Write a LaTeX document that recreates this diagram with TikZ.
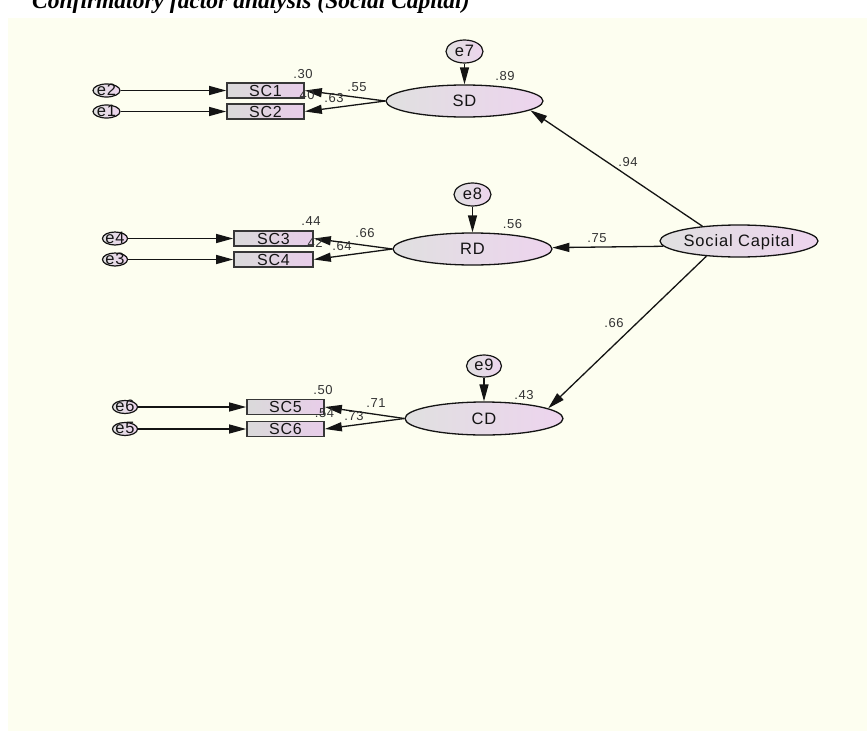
\documentclass[tikz,border=0pt]{standalone}
\usepackage{fontspec}
\setmainfont{Liberation Serif}
\newfontfamily\amosfont{Liberation Sans}[LetterSpace=5]
\usetikzlibrary{arrows.meta,shapes.geometric}
\definecolor{paper}{HTML}{FDFEF0}
\definecolor{shadeL}{HTML}{E0E0E0}
\definecolor{shadeR}{HTML}{EDD4EE}
\definecolor{boxL}{HTML}{DADADA}
\definecolor{boxR}{HTML}{E8CDE9}
\definecolor{ink}{HTML}{141414}
\definecolor{coef}{HTML}{333333}
% zero-size centred text, so the shapes keep their given size
\newcommand\ctext[1]{\makebox[0pt]{\raisebox{-0.36em}[0pt][0pt]{#1}}}
\newcommand\etext[1]{\makebox[0pt]{\raisebox{-0.3em}[0pt][0pt]{#1}}}

\begin{document}
\begin{tikzpicture}[x=1pt,y=-1pt,
  lat/.style={ellipse, draw=ink, line width=1.3pt, left color=shadeL,
    right color=shadeR, inner sep=0pt, text=ink,
    font={\fontsize{16.5}{18}\amosfont}},
  err/.style={lat, line width=1.2pt},
  obs/.style={rectangle, draw=ink!85, line width=1.7pt, left color=boxL,
    right color=boxR, minimum width=77pt, minimum height=15pt,
    inner sep=0pt, text=ink, font={\fontsize{16}{18}\amosfont}},
  coefl/.style={inner sep=0pt, text=coef, font={\fontsize{13}{14}\amosfont}},
  regpath/.style={draw=ink, line width=1.3pt,
    -{Triangle[length=17pt,width=9pt]}}
]
\useasboundingbox (0,0) rectangle (867,731);
\clip (0,0) rectangle (867,731);
\fill[white] (0,0) rectangle (867,731);
\fill[paper] (8,18) rectangle (867,731);

% heading, cut by the top edge
\node[anchor=base west, inner sep=0pt, font={\fontsize{23.5}{28}\selectfont\bfseries\itshape}]
  (title) at (32,8) {Confirmatory factor analysis (Social Capital)};

% ---- latent factors
\node[lat, minimum width=157pt, minimum height=32pt] (SD)   at (464.5,101)   {\ctext{SD}};
\node[lat, minimum width=159pt, minimum height=32pt] (RD)   at (472.5,249)   {\ctext{RD}};
\node[lat, minimum width=158pt, minimum height=33pt] (CD)   at (484,418.5)   {\ctext{CD}};
\node[lat, minimum width=158pt, minimum height=32pt] (SCap) at (739,241)     {\ctext{Social Capital}};

% ---- disturbances
\node[err, minimum width=37pt, minimum height=23pt] (e7) at (464.5,51.5) {\etext{e7}};
\node[err, minimum width=37pt, minimum height=23pt] (e8) at (472.5,194.5) {\etext{e8}};
\node[err, minimum width=35pt, minimum height=22pt] (e9) at (484,366) {\etext{e9}};

% ---- indicators
\node[obs] (SC1) at (265.5,90.5)  {\ctext{SC1}};
\node[obs] (SC2) at (265.5,111.5) {\ctext{SC2}};
\node[obs, minimum width=79pt] (SC3) at (273.5,238.5) {\ctext{SC3}};
\node[obs, minimum width=79pt] (SC4) at (273.5,259.5) {\ctext{SC4}};
\node[obs] (SC5) at (285.5,407) {\ctext{SC5}};
\node[obs] (SC6) at (285.5,429) {\ctext{SC6}};

% ---- measurement errors
\node[err, minimum width=27pt, minimum height=13pt] (e2) at (106.5,90.5)  {\etext{e2}};
\node[err, minimum width=27pt, minimum height=13pt] (e1) at (106.5,111.5) {\etext{e1}};
\node[err, minimum width=25pt, minimum height=13pt] (e4) at (115,238.5)   {\etext{e4}};
\node[err, minimum width=25pt, minimum height=13pt] (e3) at (115,259.5)   {\etext{e3}};
\node[err, minimum width=25pt, minimum height=13pt] (e6) at (125,407)     {\etext{e6}};
\node[err, minimum width=25pt, minimum height=13pt] (e5) at (125,429)     {\etext{e5}};

% ---- paths
\foreach \e/\v in {e2/SC1,e1/SC2,e4/SC3,e3/SC4,e6/SC5,e5/SC6}
  \draw[regpath] (\e) -- (\v);
\draw[regpath] (SD.west) -- (SC1.east);
\draw[regpath] (SD.west) -- (SC2.east);
\draw[regpath] (RD.west) -- (SC3.east);
\draw[regpath] (RD.west) -- (SC4.east);
\draw[regpath] (CD.west) -- (SC5.east);
\draw[regpath] (CD.west) -- (SC6.east);
\draw[regpath] (e7) -- (SD);
\draw[regpath] (e8) -- (RD);
\draw[regpath] (e9) -- (CD);
\draw[regpath] (SCap.158) -- (SD.-8);
\draw[regpath] (SCap.184) -- (RD.1);
\draw[regpath] (SCap.205) -- (CD.9);

% ---- estimates
\node[coefl] (r30) at (303,74)     {.30};
\node[coefl] (r40) at (305,95)     {.40};
\node[coefl] (l55) at (357,87.5)   {.55};
\node[coefl] (l63) at (334,98.5)   {.63};
\node[coefl] (r89) at (505,76)     {.89};
\node[coefl] (r44) at (311,221.5)  {.44};
\node[coefl] (r42) at (313,243)    {.42};
\node[coefl] (l66) at (365,233.5)  {.66};
\node[coefl] (l64) at (342,246.5)  {.64};
\node[coefl] (r56) at (512.5,224)  {.56};
\node[coefl] (r50) at (323,390.5)  {.50};
\node[coefl] (r54) at (324.5,413)  {.54};
\node[coefl] (l71) at (376,403)    {.71};
\node[coefl] (l73) at (354,416)    {.73};
\node[coefl] (r43) at (524,395)    {.43};
\node[coefl] (g94) at (628,162)    {.94};
\node[coefl] (g75) at (597,238)    {.75};
\node[coefl] (g66) at (614,323)    {.66};
\end{tikzpicture}
\end{document}
